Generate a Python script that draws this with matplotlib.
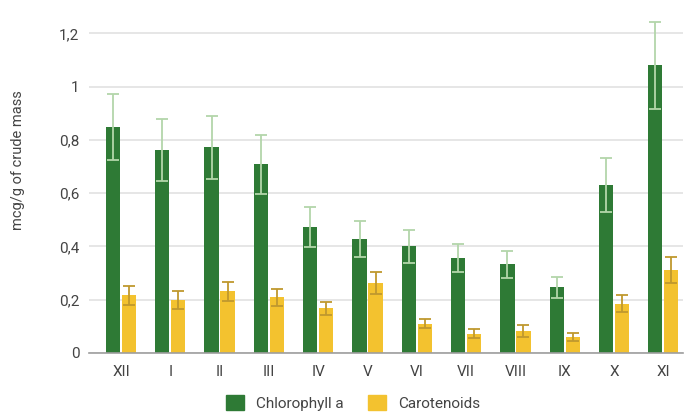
import numpy as np
import matplotlib
matplotlib.use("Agg")
import matplotlib.pyplot as plt
from matplotlib.patches import Patch

plt.rcParams['font.family'] = ['Roboto', 'DejaVu Sans']

# months (roman numerals), Dec .. Nov
months = ['XII', 'I', 'II', 'III', 'IV', 'V', 'VI', 'VII', 'VIII', 'IX', 'X', 'XI']
chl = [0.848, 0.763, 0.772, 0.708, 0.473, 0.427, 0.400, 0.356, 0.333, 0.246, 0.631, 1.081]
chl_err = [0.125, 0.117, 0.118, 0.110, 0.075, 0.067, 0.061, 0.052, 0.050, 0.039, 0.100, 0.163]
car = [0.217, 0.200, 0.231, 0.209, 0.168, 0.262, 0.109, 0.072, 0.082, 0.060, 0.185, 0.311]
car_err = [0.035, 0.033, 0.037, 0.033, 0.025, 0.042, 0.017, 0.017, 0.022, 0.014, 0.032, 0.048]
yticks = [0, 0.2, 0.4, 0.6, 0.8, 1.0, 1.2]
ytick_labels = ['0', '0,2', '0,4', '0,6', '0,8', '1', '1,2']

green = '#2e7a35'
yellow = '#f3c22f'
txt = '#444444'

fig = plt.figure(figsize=(6.85, 4.12), dpi=100)
ax = fig.add_axes([89 / 685, 59 / 412, 594 / 685, (353 - 6.8) / 412])

x = np.arange(len(months))
w = 0.29
off = 0.162
ax.bar(x - off, chl, w, color=green, zorder=3)
ax.bar(x + off, car, w, color=yellow, zorder=3)
ax.errorbar(x - off, chl, yerr=chl_err, fmt='none', ecolor='#b3d6aa',
            elinewidth=1.3, capsize=4.3, capthick=1.3, zorder=4, clip_on=False)
ax.errorbar(x + off, car, yerr=car_err, fmt='none', ecolor='#bf982e',
            elinewidth=1.3, capsize=4.3, capthick=1.3, zorder=4, clip_on=False)

ax.set_xlim(-0.65, 11.4)
ax.set_ylim(0, 1.3)
ax.set_yticks(yticks)
ax.set_yticklabels(ytick_labels)
ax.set_xticks(x)
ax.set_xticklabels(months)
ax.tick_params(axis='both', length=0, labelsize=11, colors=txt)
ax.tick_params(axis='y', pad=7)
ax.tick_params(axis='x', pad=9)
ax.grid(axis='y', color='#e2e2e2', linewidth=1.2, zorder=0)
for s in ['top', 'right', 'left']:
    ax.spines[s].set_visible(False)
ax.spines['bottom'].set_color('#9e9e9e')
ax.spines['bottom'].set_linewidth(1.2)
ax.spines['bottom'].set_zorder(5)

fig.text(18 / 685, 1 - 160 / 412, 'mcg/g of crude mass', rotation=90,
         ha='center', va='center', fontsize=10.5, color=txt)

handles = [Patch(color=green, label='Chlorophyll a'),
           Patch(color=yellow, label='Carotenoids')]
fig.legend(handles=handles, loc='center', bbox_to_anchor=(353 / 685, 1 - 403 / 412),
           ncol=2, frameon=False, fontsize=11, labelcolor=txt,
           handlelength=1.15, handleheight=1.15, handletextpad=0.8, columnspacing=1.6)

fig.savefig('out.png', dpi=100)
